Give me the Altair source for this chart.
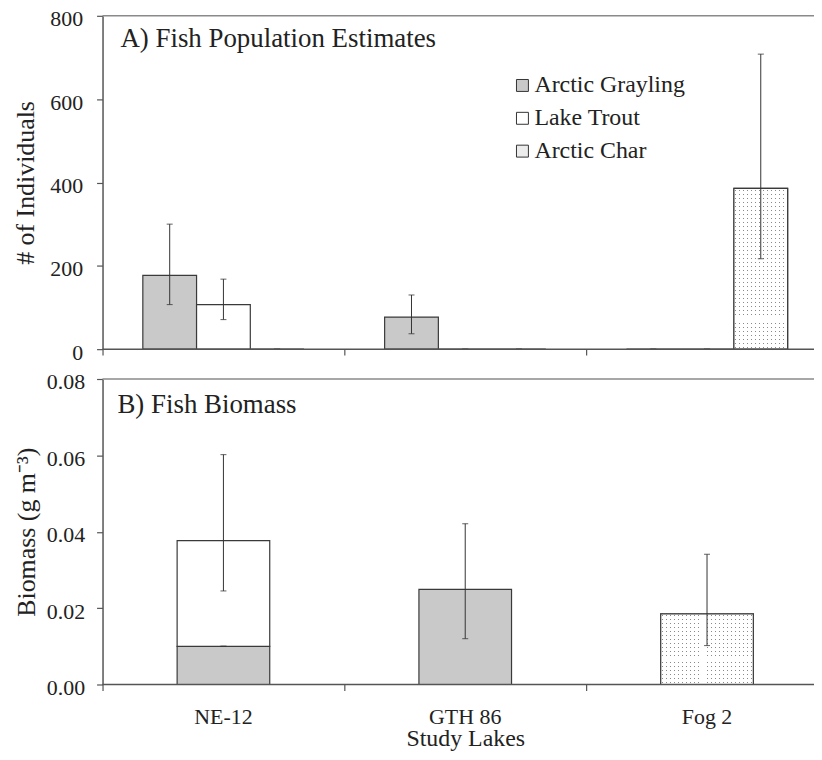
import altair as alt
import pandas as pd

FONT = "Liberation Serif"
TXT = "#222222"
LINE = "#555555"
EDGE = "#3a3a3a"

lakes = ["NE-12", "GTH 86", "Fog 2"]
species = ["Arctic Grayling", "Lake Trout", "Arctic Char"]
fills = ["#c9c9c9", "#ffffff", "#ececec"]

# Panel A: fish population estimates (# of individuals), per lake
pop_grayling = [177, 77, 0]
pop_grayling_lo = [107, 37, 0]
pop_grayling_hi = [300, 130, 0]
pop_trout = [107, 0, 0]
pop_trout_lo = [71, 0, 0]
pop_trout_hi = [168, 0, 0]
pop_char = [0, 0, 386]
pop_char_lo = [0, 0, 217]
pop_char_hi = [0, 0, 708]

# Panel B: fish biomass (g m-3), stacked per lake; error limits are absolute
bio_grayling = [0.0100, 0.0249, 0.0]
bio_grayling_lo = [0.0100, 0.0120, 0.0]
bio_grayling_hi = [0.0100, 0.0421, 0.0]
bio_trout = [0.0277, 0.0, 0.0]
bio_trout_lo = [0.0245, 0.0, 0.0]
bio_trout_hi = [0.0602, 0.0, 0.0]
bio_char = [0.0, 0.0, 0.0185]
bio_char_lo = [0.0, 0.0, 0.0102]
bio_char_hi = [0.0, 0.0, 0.0341]

pop_rows, bio_rows = [], []
pop_sets = [(pop_grayling, pop_grayling_lo, pop_grayling_hi),
            (pop_trout, pop_trout_lo, pop_trout_hi),
            (pop_char, pop_char_lo, pop_char_hi)]
bio_sets = [(bio_grayling, bio_grayling_lo, bio_grayling_hi),
            (bio_trout, bio_trout_lo, bio_trout_hi),
            (bio_char, bio_char_lo, bio_char_hi)]
for si, sp in enumerate(species):
    v, lo, hi = pop_sets[si]
    bv, blo, bhi = bio_sets[si]
    for li, lake in enumerate(lakes):
        pop_rows.append({"lake": lake, "species": sp, "order": si,
                         "value": v[li], "lo": lo[li], "hi": hi[li]})
        if bv[li] > 0:
            bio_rows.append({"lake": lake, "species": sp, "order": si,
                             "value": bv[li], "lo": blo[li], "hi": bhi[li]})
pop_df = pd.DataFrame(pop_rows)
bio_df = pd.DataFrame(bio_rows)
one = pd.DataFrame({"t": ["A) Fish Population Estimates"]})
two = pd.DataFrame({"t": ["B) Fish Biomass"]})

W, BAND_RANGE = 722, 729


def stripes(n, horizontal, on, off, a=0.38, b=0.62):
    stops = [alt.GradientStop(offset=0, color=off)]
    k = 0
    while True:
        s = (k + a) / n
        if s >= 1:
            break
        e = min((k + b) / n, 1)
        s, e = round(s, 5), round(e, 5)
        stops += [alt.GradientStop(offset=s, color=off), alt.GradientStop(offset=s, color=on),
                  alt.GradientStop(offset=e, color=on), alt.GradientStop(offset=e, color=off)]
        k += 1
    stops.append(alt.GradientStop(offset=1, color=off))
    if horizontal:
        return alt.LinearGradient(gradient="linear", stops=stops, x1=0, x2=1, y1=0, y2=0)
    return alt.LinearGradient(gradient="linear", stops=stops, x1=0, x2=0, y1=0, y2=1)


DOT = "#8a8a8a"
CLEAR = "rgba(255,255,255,0)"

fill_enc = alt.Fill("species:N", scale=alt.Scale(domain=species, range=fills),
                    legend=alt.Legend(title=None, orient="none", legendX=407, legendY=58,
                                      symbolType="square", symbolSize=144, symbolOffset=3,
                                      symbolStrokeColor="#333333", symbolStrokeWidth=1,
                                      labelFont=FONT, labelFontSize=24, labelColor=TXT,
                                      labelOffset=0, rowPadding=9, padding=0))

# ---------------- Panel A ----------------
x_a = alt.X("lake:N", sort=lakes,
            scale=alt.Scale(domain=lakes, range=[0, BAND_RANGE], paddingInner=0, paddingOuter=0),
            axis=alt.Axis(title=None, labels=False, domain=False, bandPosition=0, tickExtra=False,
                          tickSize=6, tickColor=LINE, tickWidth=1.2))
xoff = alt.XOffset("species:N", scale=alt.Scale(domain=species, paddingInner=0, paddingOuter=0.75))
scale_a = alt.Scale(domain=[0, 800], nice=False)
axis_a = alt.Axis(values=list(range(0, 801, 100)), tickCount=8, title="# of Individuals",
                  titleFontSize=26, titlePadding=11, labelFontSize=22, labelPadding=14,
                  labelOffset=3, labelOverlap=False, tickSize=6, grid=False)
y_a = alt.Y("value:Q", scale=scale_a, axis=axis_a)

bars_a = alt.Chart(pop_df).mark_bar(stroke=EDGE, strokeWidth=1.2).encode(
    x=x_a, xOffset=xoff, y=y_a, fill=fill_enc)
char_a = pop_df[(pop_df.species == "Arctic Char") & (pop_df.value > 0)]
dots_a = alt.Chart(char_a).mark_bar(fill=stripes(13.5, True, DOT, "#ffffff")).encode(
    x=x_a, xOffset=xoff, y=y_a)
mask_a = alt.Chart(char_a).mark_bar(fill=stripes(40, False, CLEAR, "#ffffff"),
                                    stroke=EDGE, strokeWidth=1.2).encode(
    x=x_a, xOffset=xoff, y=y_a)
err_a = alt.Chart(pop_df).mark_rule(color="#333333", strokeWidth=1).encode(
    x=x_a, xOffset=xoff, y=alt.Y("lo:Q", scale=scale_a, axis=axis_a), y2="hi:Q")
caplo_a = alt.Chart(pop_df).mark_tick(size=6, thickness=1.1, color="#333333").encode(
    x=x_a, xOffset=xoff, y=alt.Y("lo:Q", scale=scale_a, axis=axis_a))
caphi_a = alt.Chart(pop_df).mark_tick(size=6, thickness=1.1, color="#333333").encode(
    x=x_a, xOffset=xoff, y=alt.Y("hi:Q", scale=scale_a, axis=axis_a))
top_a = alt.Chart(one).mark_rule(color="#8a8a8a", strokeWidth=1.4).encode(
    x=alt.value(0), x2=alt.value(W), y=alt.datum(800))
base_a = alt.Chart(one).mark_rule(color=LINE, strokeWidth=1.5).encode(
    x=alt.value(0), x2=alt.value(W), y=alt.datum(0))
title_a = alt.Chart(one).mark_text(align="left", baseline="alphabetic", font=FONT,
                                   fontSize=27, color=TXT).encode(
    x=alt.value(18), y=alt.value(31), text="t:N")

panel_a = alt.layer(bars_a, dots_a, mask_a, err_a, caplo_a, caphi_a, top_a, base_a, title_a
                    ).properties(width=W, height=335)

# ---------------- Panel B ----------------
x_b = alt.X("lake:N", sort=lakes,
            scale=alt.Scale(domain=lakes, range=[0, BAND_RANGE], paddingInner=0, paddingOuter=0),
            axis=alt.Axis(title="Study Lakes", labelFontSize=22, labelPadding=16, labelAngle=0,
                          titleFontSize=24, titlePadding=-1, domain=False, bandPosition=0,
                          tickExtra=False, tickSize=6, tickColor=LINE, tickWidth=1.2))
scale_b = alt.Scale(domain=[0, 0.08], nice=False)
axis_b = alt.Axis(values=[0.0, 0.01, 0.02, 0.03, 0.04, 0.05, 0.06, 0.07, 0.08], tickCount=8,
                  format=".2f", title="Biomass (g m\u207b\u00b3)", titleFontSize=26,
                  titlePadding=7, labelFontSize=22, labelPadding=12, labelOffset=3,
                  labelOverlap=False, tickSize=6, grid=False)
y_b = alt.Y("value:Q", stack="zero", scale=scale_b, axis=axis_b)
BW = alt.RelativeBandSize(0.383)

bars_b = alt.Chart(bio_df).mark_bar(stroke=EDGE, strokeWidth=1.2, width=BW).encode(
    x=x_b, y=y_b, fill=fill_enc, order=alt.Order("order:Q"))
char_b = bio_df[bio_df.species == "Arctic Char"]
y_b2 = alt.Y("value:Q", stack=None, scale=scale_b, axis=axis_b)
dots_b = alt.Chart(char_b).mark_bar(width=BW, fill=stripes(23, True, DOT, "#ffffff")).encode(
    x=x_b, y=y_b2)
mask_b = alt.Chart(char_b).mark_bar(width=BW, fill=stripes(18, False, CLEAR, "#ffffff"),
                                    stroke=EDGE, strokeWidth=1.2).encode(x=x_b, y=y_b2)
err_b = alt.Chart(bio_df).mark_rule(color="#333333", strokeWidth=1).encode(
    x=x_b, y=alt.Y("lo:Q", scale=scale_b, axis=axis_b), y2="hi:Q")
caplo_b = alt.Chart(bio_df).mark_tick(size=6, thickness=1.1, color="#333333").encode(
    x=x_b, y=alt.Y("lo:Q", scale=scale_b, axis=axis_b))
caphi_b = alt.Chart(bio_df).mark_tick(size=6, thickness=1.1, color="#333333").encode(
    x=x_b, y=alt.Y("hi:Q", scale=scale_b, axis=axis_b))
top_b = alt.Chart(two).mark_rule(color="#8a8a8a", strokeWidth=1.4).encode(
    x=alt.value(0), x2=alt.value(W), y=alt.datum(0.08))
base_b = alt.Chart(two).mark_rule(color=LINE, strokeWidth=1.5).encode(
    x=alt.value(0), x2=alt.value(W), y=alt.datum(0))
title_b = alt.Chart(two).mark_text(align="left", baseline="alphabetic", font=FONT,
                                   fontSize=27, color=TXT).encode(
    x=alt.value(15), y=alt.value(34), text="t:N")

panel_b = alt.layer(bars_b, dots_b, mask_b, err_b, caplo_b, caphi_b, top_b, base_b, title_b
                    ).properties(width=W, height=307)

chart = alt.vconcat(panel_a, panel_b, spacing=30, bounds="flush").properties(
    padding={"left": 4, "top": -3, "right": -15, "bottom": 0}
).configure(font=FONT).configure_axis(
    labelFont=FONT, titleFont=FONT, labelColor=TXT, titleColor=TXT,
    titleFontWeight="normal", domainColor=LINE, domainWidth=1.5,
    tickColor=LINE, tickWidth=1.2
).configure_view(stroke="transparent")

chart.save("out.html", embed_options={"renderer": "svg", "actions": False})
